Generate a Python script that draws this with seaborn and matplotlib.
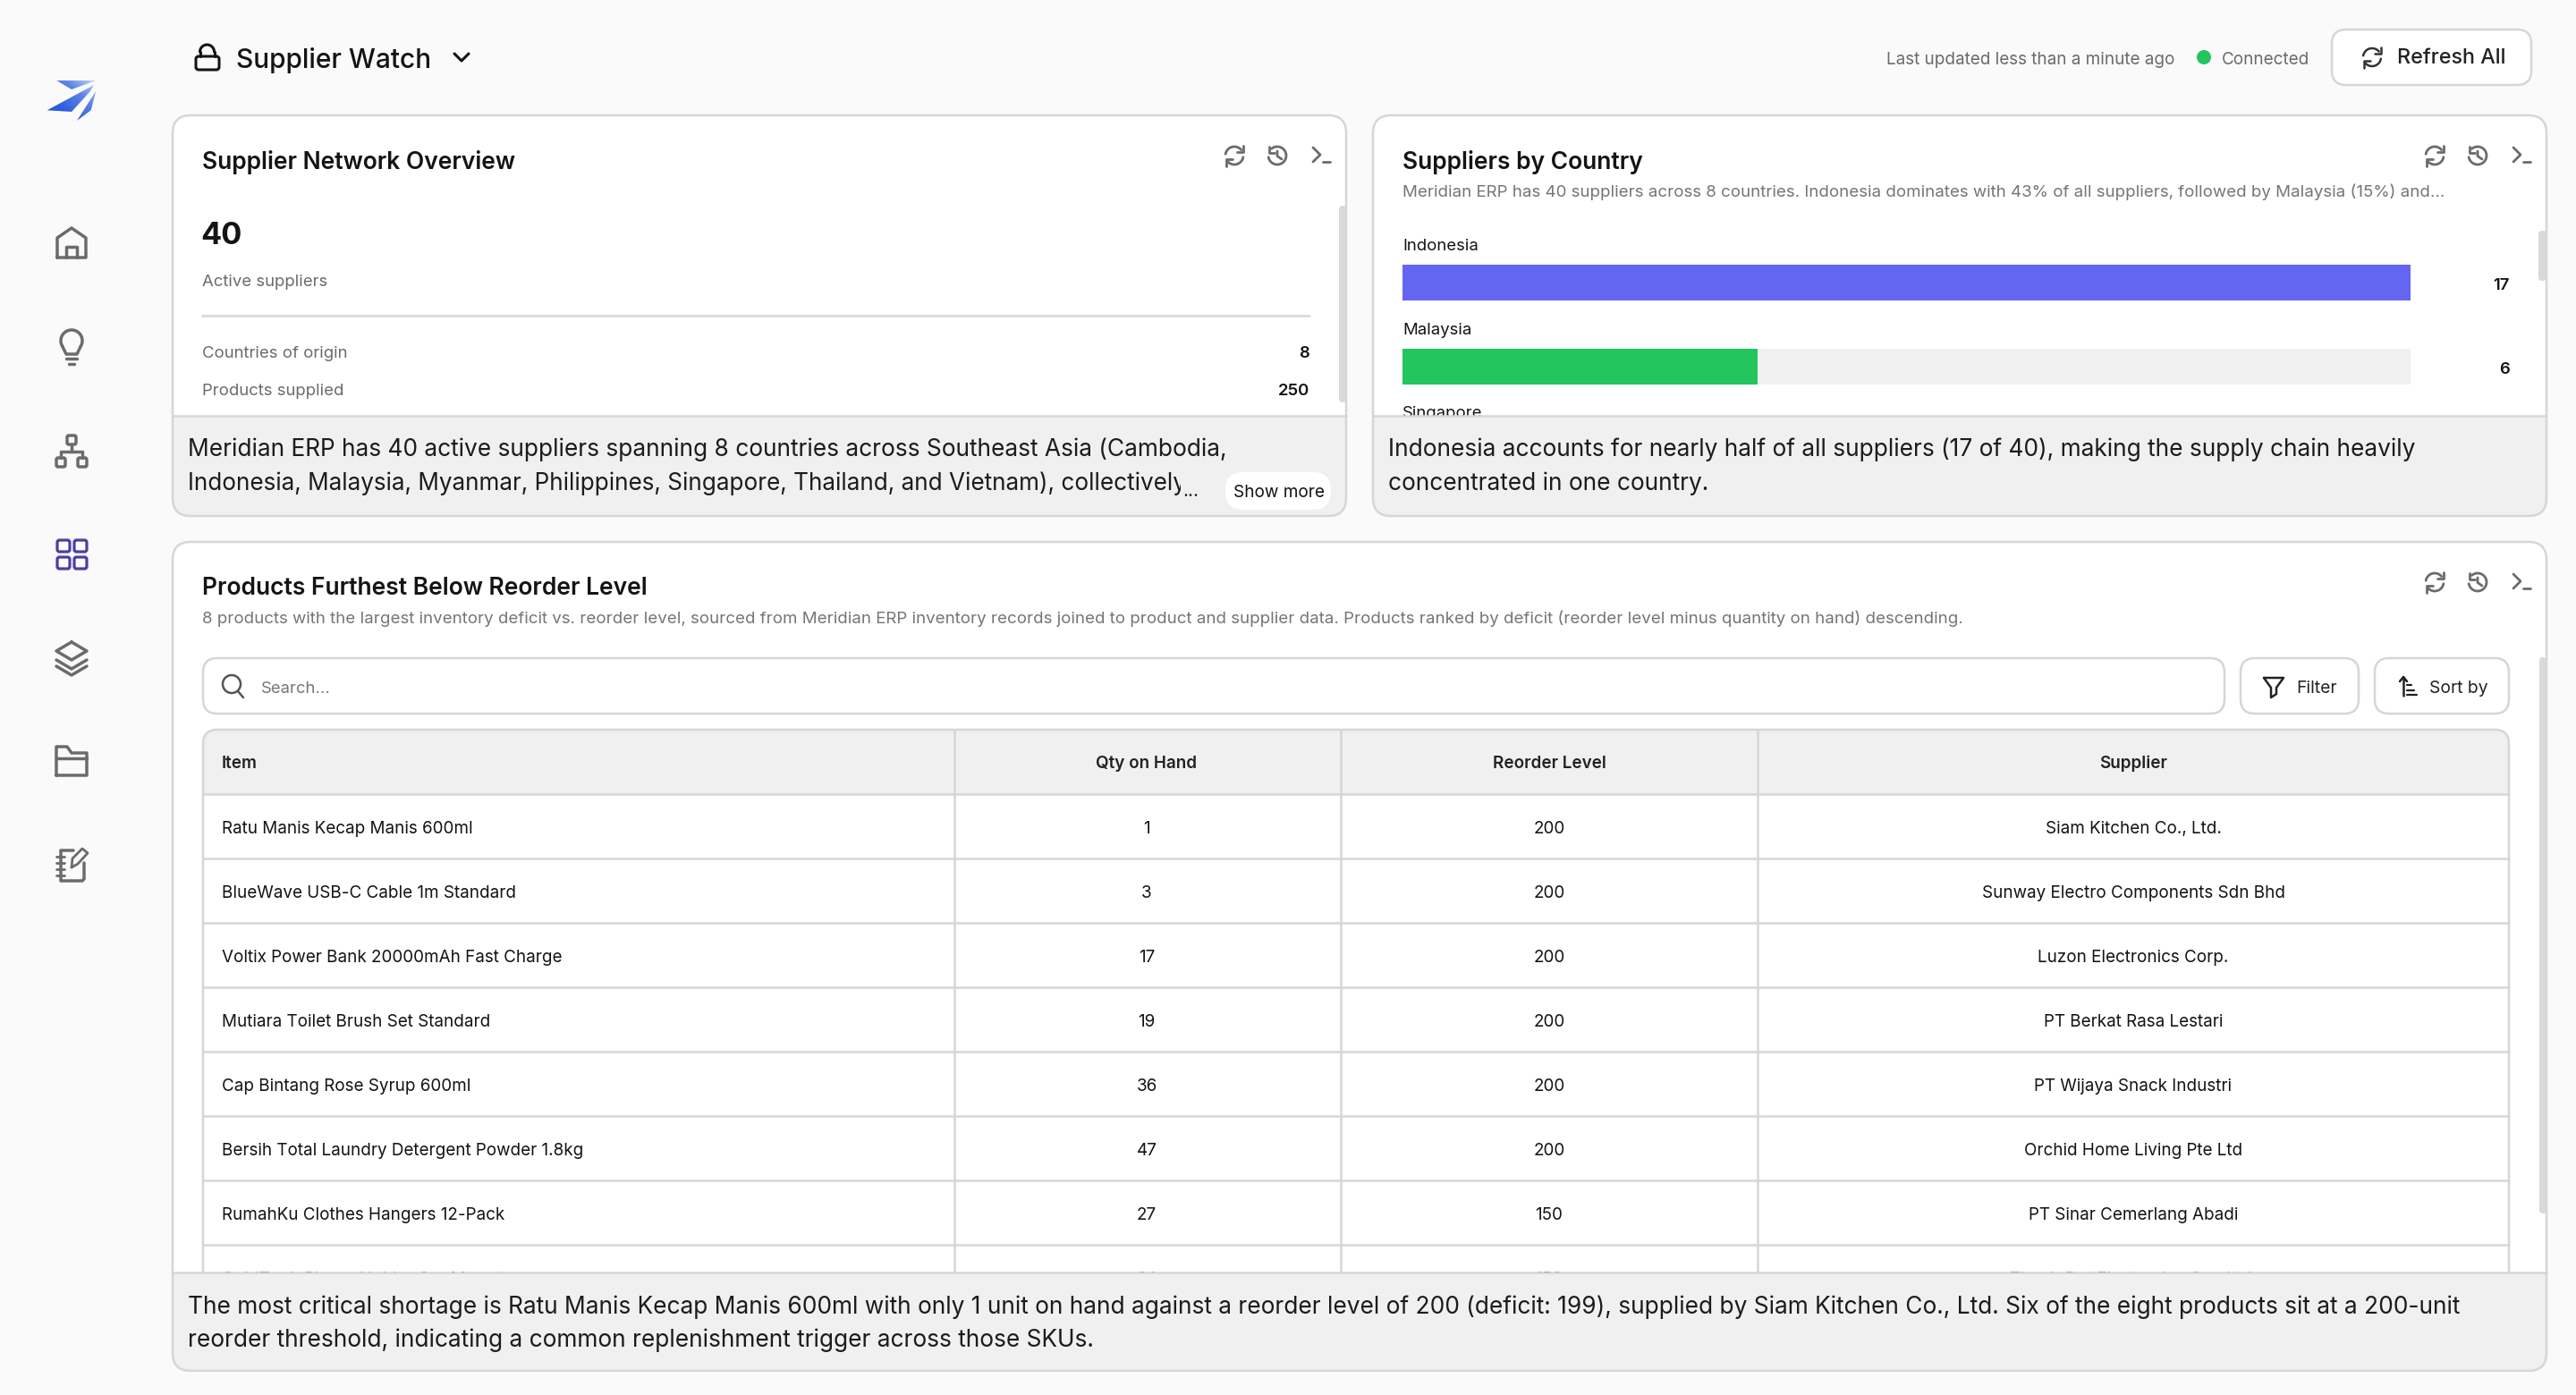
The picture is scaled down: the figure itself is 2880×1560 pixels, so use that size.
import numpy as np
import pandas as pd
import seaborn as sns
import matplotlib
matplotlib.use("Agg")
import matplotlib.pyplot as plt
from matplotlib.patches import FancyBboxPatch, Rectangle, Polygon, Circle
from matplotlib.textpath import TextPath
from matplotlib.font_manager import FontProperties
from matplotlib.transforms import Bbox, TransformedBbox

# ---------- data ----------
countries = ["Indonesia", "Malaysia"]
supplier_counts = [17, 6]
country_total = [17, 17]
clipped_country = "Singapore"
kpi_value = "40"
kpi_label = "Active suppliers"
metric_labels = ["Countries of origin", "Products supplied"]
metric_values = ["8", "250"]
table_columns = ["Item", "Qty on Hand", "Reorder Level", "Supplier"]
items = ["Ratu Manis Kecap Manis 600ml", "BlueWave USB-C Cable 1m Standard",
         "Voltix Power Bank 20000mAh Fast Charge", "Mutiara Toilet Brush Set Standard",
         "Cap Bintang Rose Syrup 600ml", "Bersih Total Laundry Detergent Powder 1.8kg",
         "RumahKu Clothes Hangers 12-Pack", "GoldTech Phone Holder Car Mount"]
qty_on_hand = [1, 3, 17, 19, 36, 47, 27, 24]
reorder_level = [200, 200, 200, 200, 200, 200, 150, 150]
suppliers = ["Siam Kitchen Co., Ltd.", "Sunway Electro Components Sdn Bhd", "Luzon Electronics Corp.",
             "PT Berkat Rasa Lestari", "PT Wijaya Snack Industri", "Orchid Home Living Pte Ltd",
             "PT Sinar Cemerlang Abadi", "Thanh Dat Electronics Co., Ltd."]
note_1 = ["Meridian ERP has 40 active suppliers spanning 8 countries across Southeast Asia (Cambodia,",
          "Indonesia, Malaysia, Myanmar, Philippines, Singapore, Thailand, and Vietnam), collectively"]
note_2 = ["Indonesia accounts for nearly half of all suppliers (17 of 40), making the supply chain heavily",
          "concentrated in one country."]
note_3 = ["The most critical shortage is Ratu Manis Kecap Manis 600ml with only 1 unit on hand against a reorder level of 200 (deficit: 199), supplied by Siam Kitchen Co., Ltd. Six of the eight products sit at a 200-unit",
          "reorder threshold, indicating a common replenishment trigger across those SKUs."]
sub_2 = "Meridian ERP has 40 suppliers across 8 countries. Indonesia dominates with 43% of all suppliers, followed by Malaysia (15%) and..."
sub_3 = "8 products with the largest inventory deficit vs. reorder level, sourced from Meridian ERP inventory records joined to product and supplier data. Products ranked by deficit (reorder level minus quantity on hand) descending."

# ---------- canvas ----------
sns.set_theme(style="white")
FAM = "Inter"
plt.rcParams["font.family"] = [FAM, "DejaVu Sans"]
BG, BORDER, BAND, GREY, INK = "#fafafa", "#d6d6d6", "#f0f0f0", "#6b6b6b", "#141414"
fig = plt.figure(figsize=(14.4, 7.8), dpi=200, facecolor=BG)
ax = fig.add_axes([0, 0, 1, 1], zorder=0)
ax.set_xlim(0, 2880); ax.set_ylim(1560, 0); ax.axis("off")
LW = 0.9
C3 = -1.0  # vertical nudge of the lower card


def fit(ref, width, weight=400):
    tp = TextPath((0, 0), ref, size=100, prop=FontProperties(family=FAM, weight=weight))
    e = tp.get_extents()
    return 100 * (width * 72 / 200) / e.width


STY = {
    "h1": (fit("Supplier Watch", 215, 500), 500, INK),
    "title": (fit("Supplier Network Overview", 349, 600), 600, INK),
    "big": (fit("40", 43, 700), 700, INK),
    "small": (fit("Active suppliers", 139), 400, GREY),
    "smallk": (fit("Active suppliers", 139), 400, INK),
    "val": (fit("Active suppliers", 139), 600, INK),
    "note": (fit(note_1[0], 1159), 400, "#1c1c1c"),
    "note2": (fit(note_1[0], 1150), 400, "#1c1c1c"),
    "dots": (fit("...", 15), 400, "#1c1c1c"),
    "sub": (fit(sub_2, 1161), 400, "#757575"),
    "cell": (fit(items[0], 278), 400, INK),
    "head": (fit(items[0], 278), 600, "#222222"),
    "top": (fit("Last updated less than a minute ago", 320), 400, GREY),
    "btn": (fit("Refresh All", 116), 500, "#222222"),
    "show": (fit("Show more", 100), 400, INK),
    "tool": (fit("Sort by", 64), 400, "#222222"),
    "search": (fit("Search...", 75), 400, "#777777"),
}


def T(x, y, s, sty, ha="left", z=3, clip=None):
    size, w, c = STY[sty]
    px = size * 200 / 72
    t = ax.text(x, y + 0.36 * px - 1.5, s, fontsize=size, fontweight=w, color=c, ha=ha, va="baseline",
                family=[FAM, "DejaVu Sans"], zorder=z)
    if clip is not None:
        t.set_clip_on(True)
        t.set_clip_box(TransformedBbox(Bbox(clip), ax.transData))
    return t


def RR(x0, y0, x1, y1, r, fc="none", ec="none", lw=LW, z=1):
    p = FancyBboxPatch((x0, y0), x1 - x0, y1 - y0, boxstyle=f"round,pad=0,rounding_size={r}",
                       fc=fc, ec=ec, lw=lw, zorder=z)
    ax.add_patch(p)
    return p


def L(cx, cy, pts, c=GREY, lw=1.25, z=8, closed=False):
    a = np.array(pts, float)
    if closed:
        a = np.vstack([a, a[:1]])
    ax.plot(cx + a[:, 0], cy + a[:, 1], color=c, lw=lw, zorder=z, solid_capstyle="round",
            solid_joinstyle="round")


def ARC(cx, cy, r, t0, t1, c=GREY, lw=1.25, z=8):
    t = np.radians(np.linspace(t0, t1, 40))
    ax.plot(cx + r * np.cos(t), cy + r * np.sin(t), color=c, lw=lw, zorder=z, solid_capstyle="round")


def icon_refresh(cx, cy, r=10, c=GREY, lw=1.0):
    ARC(cx, cy, r, 190, 320, c, lw); ARC(cx, cy, r, 10, 140, c, lw)
    L(cx, cy, [(r * .95, -r * 1.15), (r * .95, -r * .4), (r * .25, -r * .4)], c, lw)
    L(cx, cy, [(-r * .95, r * 1.15), (-r * .95, r * .4), (-r * .25, r * .4)], c, lw)


def icon_history(cx, cy, r=10, c=GREY, lw=1.0):
    ARC(cx, cy, r, -130, 170, c, lw)
    L(cx, cy, [(-r * .95, -r * 1.0), (-r * .95, -r * .35), (-r * .3, -r * .35)], c, lw)
    L(cx, cy, [(0, -r * .5), (0, r * .05), (r * .5, r * .4)], c, lw)


def icon_term(cx, cy, c=GREY, lw=1.0):
    L(cx, cy, [(-8, -9), (0, -1), (-8, 7)], c, lw)
    L(cx, cy, [(3, 7), (11, 7)], c, lw)


def card(x0, y0, x1, y1, band_top):
    base = RR(x0, y0, x1, y1, 20, fc="white", z=1)
    b = Rectangle((x0, band_top), x1 - x0, y1 - band_top, fc=BAND, ec="none", zorder=5)
    ax.add_patch(b); b.set_clip_path(base)
    RR(x0, y0, x1, y1, 20, ec=BORDER, z=6)
    ax.plot([x0, x1], [band_top, band_top], color=BORDER, lw=LW, zorder=6)
    for cx, fn in zip((x1 - 125, x1 - 77, x1 - 29), (icon_refresh, icon_history, icon_term)):
        fn(cx, y0 + 45)


# ---------- page header ----------
ARC(231.5, 58, 8, 180, 360, INK, 1.1)
L(231.5, 0, [(-8, 58), (-8, 63)], INK, 1.1); L(231.5, 0, [(8, 58), (8, 63)], INK, 1.1)
RR(219, 63, 245, 78, 3, ec=INK, lw=1.1, z=8)
T(264.5, 66.5, "Supplier Watch", "h1")
L(516, 64, [(-8, -4), (0, 4), (8, -4)], INK, 1.1)
T(2109, 66.5, "Last updated less than a minute ago", "top")
ax.add_patch(Circle((2464, 64), 8, fc="#22c55e", ec="none", zorder=3))
T(2484, 66.5, "Connected", "top")
RR(2607, 33, 2830, 95, 16, fc="white", ec=BORDER)
icon_refresh(2652, 64, 10, "#333333", 0.9)
T(2680, 64.5, "Refresh All", "btn")

# ---------- sidebar ----------
logo = [[(63.3, 90), (107.3, 90), (80, 100)],
        [(52.7, 123.3), (105, 95), (101, 102), (80, 125)],
        [(86, 135), (107.3, 101.7), (101.7, 123.3)]]
gx, gy = np.meshgrid(np.linspace(0, 1, 80), np.linspace(0, 1, 80))
grad = (gx + (1 - gy)) / 2
cmap = matplotlib.colors.LinearSegmentedColormap.from_list("l", ["#1f44cc", "#2f5fdc", "#5f84e6", "#cfe6fb"])
for poly in logo:
    im = ax.imshow(grad, extent=(50, 110, 138, 88), cmap=cmap, origin="upper", aspect="auto", zorder=2,
                   interpolation="bilinear")
    pg = Polygon(poly, closed=True, fc="none", ec="none", transform=ax.transData)
    ax.add_patch(pg); im.set_clip_path(pg)
ax.set_xlim(0, 2880); ax.set_ylim(1560, 0)

# home
L(80, 272, [(-16, 16), (-16, -6), (0, -17), (16, -6), (16, 16)], closed=True)
L(80, 272, [(-6, 16), (-6, 4), (6, 4), (6, 16)])
# bulb
ARC(80, 381, 12, 150, 390)
L(80, 381, [(-10.4, 6), (-6, 15), (6, 15), (10.4, 6)])
L(80, 381, [(-6, 20), (6, 20)]); L(80, 381, [(-3, 26), (3, 26)])
# network
RR(75, 487, 85, 497, 2, ec=GREY, lw=1.25, z=8)
RR(63, 512, 73, 522, 2, ec=GREY, lw=1.25, z=8)
RR(87, 512, 97, 522, 2, ec=GREY, lw=1.25, z=8)
L(80, 504, [(0, -7), (0, 1)]); L(80, 504, [(-12, 8), (-12, 1), (12, 1), (12, 8)])
# grid (active)
for dx in (0, 19):
    for dy in (0, 19):
        RR(64 + dx, 604 + dy, 78 + dx, 617 + dy, 2.5, ec="#4b3fa0", lw=1.15, z=8)
# layers
L(80, 736, [(0, -18), (17, -8), (0, 2), (-17, -8)], closed=True)
L(80, 736, [(-17, 2), (0, 12), (17, 2)]); L(80, 736, [(-17, 9), (0, 19), (17, 9)])
# folder
L(80, 851, [(-17, 16), (-17, -16), (-5, -16), (0, -9), (17, -9), (17, 16)], closed=True)
L(80, 851, [(-17, -3), (17, -3)])
# notebook
L(80, 968, [(2, -17), (-12, -17), (-12, 17), (12, 17), (14, 15), (14, -3)])
for dy in (-10, -3, 4, 11):
    L(80, 968, [(-17, dy), (-8, dy)], lw=1.0)
L(80, 968, [(0, 2), (1, -8), (12, -19), (18, -14), (7, -2)], closed=True, lw=1.0)

# ---------- card 1 : overview ----------
card(193, 129, 1505, 577, 465)
T(226, 180.5, "Supplier Network Overview", "title")
T(224.5, 262, kpi_value, "big")
T(226, 315, kpi_label, "small")
ax.plot([226, 1464], [352.5, 352.5], color=BORDER, lw=LW, zorder=3)
for lab, val, yy in zip(metric_labels, metric_values, (395, 437)):
    T(226, yy, lab, "small")
    T(1464, yy, val, "val", ha="right")
RR(1497, 230, 1505, 450, 4, fc="#d9d9d9", z=2)
T(209.5, 502, note_1[0], "note", z=7)
T(209.5, 540, note_1[1], "note2", z=7, clip=[[0, 0], [1320, 1560]])
T(1322, 549, "...", "dots", z=7)
RR(1370, 528, 1488, 570, 20, fc="white", z=7)
T(1379, 551, "Show more", "show", z=8)

# ---------- card 2 : suppliers by country ----------
card(1535, 129, 2847, 577, 465)
T(1568, 180.5, "Suppliers by Country", "title")
T(1568, 215, sub_2, "sub")
RR(2838, 258, 2847, 314, 4, fc="#d9d9d9", z=2)

X0, X1, Y0, Y1 = 1567.7, 2694.5, 286, 440
bax = fig.add_axes([X0 / 2880, 1 - Y1 / 1560, (X1 - X0) / 2880, (Y1 - Y0) / 1560], zorder=1)
bax.patch.set_alpha(0)
df = pd.DataFrame({"country": countries, "count": supplier_counts, "total": country_total})
sns.barplot(data=df, x="total", y="country", ax=bax, color=BAND, saturation=1, width=40 / 94, orient="h")
sns.barplot(data=df, x="count", y="country", hue="country", palette=["#6366f1", "#22c55e"], ax=bax,
            saturation=1, width=40 / 94, orient="h", legend=False, dodge=False)
bax.set_xlim(0, max(country_total))
bax.set_ylim(1 + 30 / 94, -30 / 94)
for p in bax.patches:
    p.set_linewidth(0)
bax.axis("off")
for i, (c, v) in enumerate(zip(countries, supplier_counts)):
    T(1568, 274.5 + 94 * i, c, "smallk")
    T(2806, 318.5 + 94 * i, str(v), "val", ha="right")
T(1568, 462, clipped_country, "smallk", z=3)
T(1552, 502, note_2[0], "note", z=7)
T(1552, 540, note_2[1], "note", z=7)

# ---------- card 3 : table ----------
card(193, 607 + C3, 2847, 1533, 1424 + C3)
ax.add_patch(Rectangle((150, 1534.2), 2750, 30, fc=BG, ec="none", zorder=7))
T(226, 657, "Products Furthest Below Reorder Level", "title")
T(226, 692, sub_3, "sub")
RR(2839, 736 + C3, 2847, 1358 + C3, 4, fc="#d9d9d9", z=2)
top3, bot3 = 737 + C3, 799 + C3
RR(227, top3, 2487, bot3, 16, fc="white", ec=BORDER)
ax.add_patch(Circle((259, 766 + C3), 10, fc="none", ec="#555555", lw=0.9, zorder=8))
L(0, C3, [(266, 774), (272, 781)], "#555555", 0.9)
T(292, 770, "Search...", "search")
RR(2505, top3, 2637, bot3, 16, fc="white", ec=BORDER)
L(2542, 769 + C3, [(-11, -10), (11, -10), (3, 1), (3, 8), (-3, 12), (-3, 1)], "#222222", 0.9, closed=True)
T(2567, 770, "Filter", "tool")
RR(2655, top3, 2805, bot3, 16, fc="white", ec=BORDER)
L(2687, 769 + C3, [(0, -11), (0, 10)], "#222222", 0.9); L(2687, 769 + C3, [(-4, -6), (0, -11), (4, -6)], "#222222", 0.9)
for dy, w in ((-2, 5), (4, 8), (9, 11)):
    L(2691, 769 + C3, [(0, dy), (w, dy)], "#222222", 0.8)
T(2716, 770, "Sort by", "tool")

tb = RR(227, 817 + C3, 2805, 1500, 16, fc="white", z=1.5)
hdr = Rectangle((227, 817 + C3), 2578, 72, fc=BAND, ec="none", zorder=1.6)
ax.add_patch(hdr); hdr.set_clip_path(tb)
RR(227, 817 + C3, 2805, 1500, 16, ec=BORDER, z=2)
COLX = [1067, 1499, 1965]
for cx in COLX:
    ax.plot([cx, cx], [817 + C3, 1500], color=BORDER, lw=LW, zorder=2)
CENT = [1282, 1732, 2385]
T(248, 854, table_columns[0], "head")
for cx, name in zip(CENT, table_columns[1:]):
    T(cx, 854, name, "head", ha="center")
for i, (it, q, r, s) in enumerate(zip(items, qty_on_hand, reorder_level, suppliers)):
    top = 889 + C3 + 72 * i
    ax.plot([227, 2805], [top, top], color=BORDER, lw=LW, zorder=2)
    yy = top + 38.5
    T(248, yy, it, "cell")
    T(CENT[0], yy, str(q), "cell", ha="center")
    T(CENT[1], yy, str(r), "cell", ha="center")
    T(CENT[2], yy, s, "cell", ha="center")
T(209.5, 1461, note_3[0], "note", z=7)
T(209.5, 1498, note_3[1], "note", z=7)

fig.savefig("out.png", dpi=200, facecolor=BG)
